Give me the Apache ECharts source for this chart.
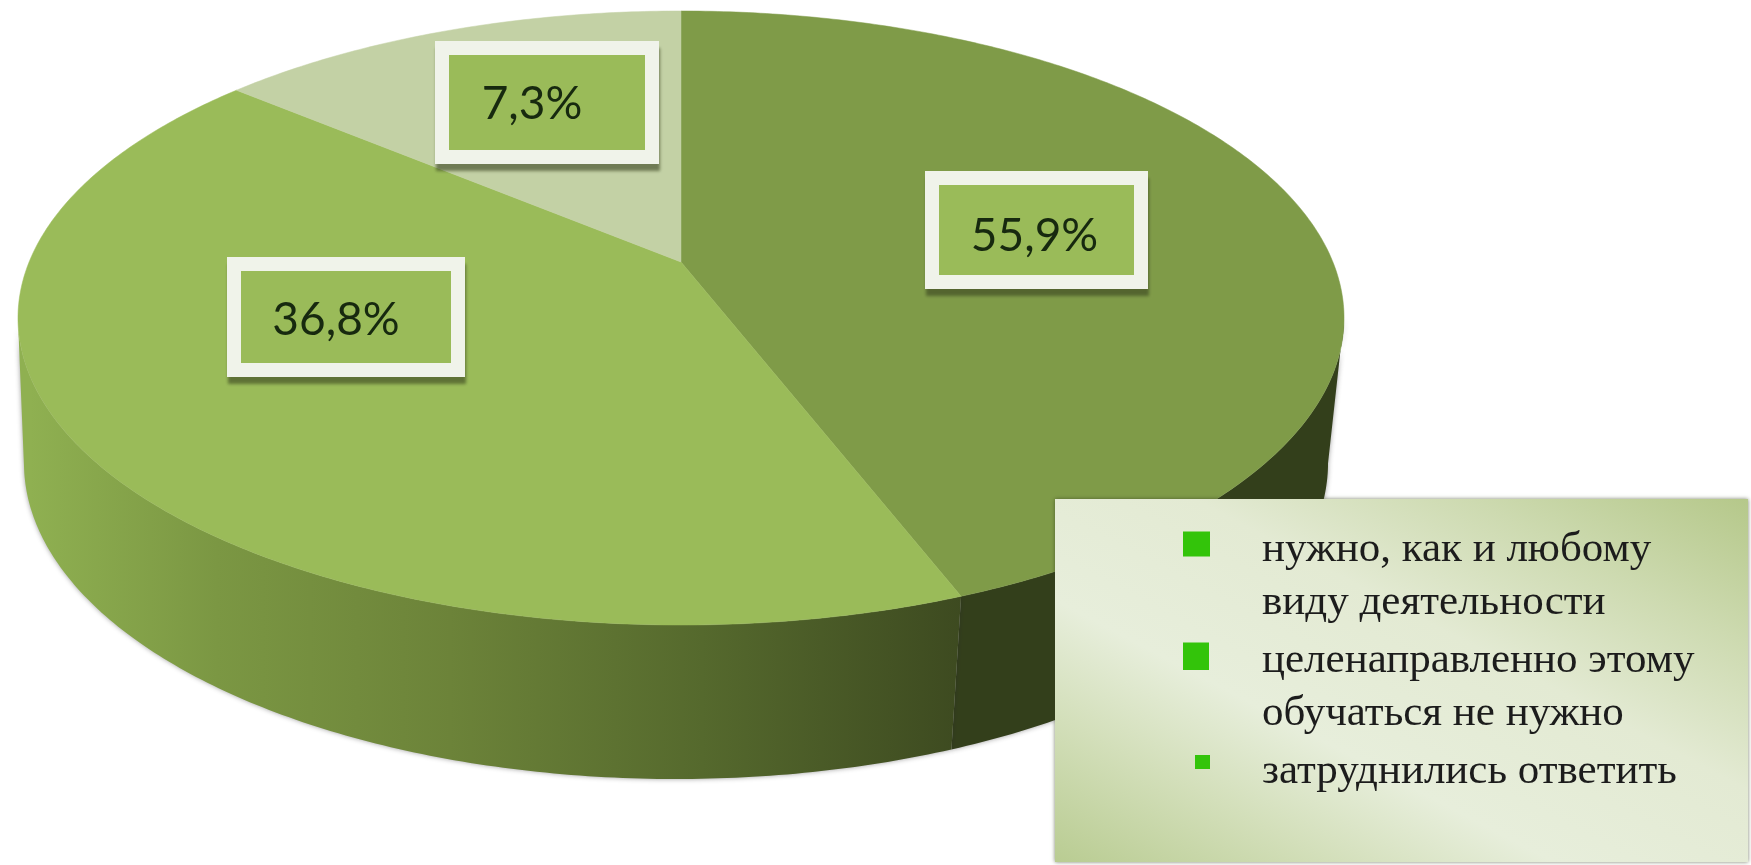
<!DOCTYPE html>
<html><head><meta charset="utf-8">
<style>html,body{margin:0;padding:0;background:#fff}#c{width:1751px;height:865px}</style>
<script src="https://cdn.jsdelivr.net/npm/echarts@6/dist/echarts.min.js"></script>
</head><body><div id="c"></div>
<script>
// Category names and the percentages printed on the chart.
const categories = ['нужно, как и любому\nвиду деятельности', 'целенаправленно этому\nобучаться не нужно', 'затруднились ответить'];
const printedPercents = ['55,9%', '36,8%', '7,3%'];
// Slice sizes as actually drawn in the reference (read from its boundaries; they differ from the printed figures).
const drawnShares = [44.2, 42.0, 13.8];

// Layout and styling, separate from the data.
const P = {cx: 681, y0: 262, a: 296.8, b: 651.9, k: -0.1824};      // perspective disc
const L = {cy0: 318, ry0: 307, rx0: 663, cx: 676, cy: 463, ry: 316, rx: 652}; // lower rim
const faceColors = ['#7f9b48', '#9abb59', '#c3d1a5'];
const wallFill = [
  '#333f1b',
  {type: 'linear', x: 30, y: 0, x2: 964, y2: 0, global: true, colorStops: [
    {offset: 0, color: '#8fb051'}, {offset: .2, color: '#7b9743'}, {offset: .45, color: '#6c8339'},
    {offset: .72, color: '#55692d'}, {offset: 1, color: '#3d4a20'}]},
  '#9aa67f'
];
const labelBoxes = [[925, 171, 223, 118], [227, 257, 238, 120], [435, 41, 224, 123]];
const labelTextShift = [[-2, 6], [-10, 3], [-15, 2]];
const FRAME = 14;

function rimPoint(t) {
  const X = Math.sin(t), Y = -Math.cos(t), D = 1 + P.k * Y;
  return [P.cx + P.b * X / D, P.y0 + P.a * Y / D];
}
function lowerPoint(p) {
  return [L.cx + (p[0] - P.cx) * L.rx / L.rx0, L.cy + (p[1] - L.cy0) * L.ry / L.ry0];
}
function arc(i) {
  const total = drawnShares.reduce((s, v) => s + v, 0);
  const before = drawnShares.slice(0, i).reduce((s, v) => s + v, 0);
  const a0 = before / total * 2 * Math.PI, a1 = (before + drawnShares[i]) / total * 2 * Math.PI;
  const n = Math.max(8, Math.round((a1 - a0) * 90)), pts = [];
  for (let j = 0; j <= n; j++) pts.push(rimPoint(a0 + (a1 - a0) * j / n));
  return pts;
}
function sliceItem(params, api) {
  const i = params.seriesIndex, pts = arc(i), b = labelBoxes[i], s = labelTextShift[i];
  const front = pts.filter(p => p[1] >= L.cy0);
  const children = [];
  if (front.length > 1) {
    children.push({type: 'polygon', z2: i === 1 ? 2 : 1, shape: {points: front.concat(front.map(lowerPoint).reverse())},
      style: {fill: wallFill[i], shadowBlur: 5, shadowColor: 'rgba(40,40,40,.45)'}});
  }
  children.push(
    {type: 'polygon', z2: 5, shape: {points: [[P.cx, P.y0]].concat(pts)},
     style: {fill: faceColors[i], stroke: faceColors[i], lineWidth: .5}},
    {type: 'rect', z2: 6, shape: {x: b[0], y: b[1], width: b[2], height: b[3]},
     style: {fill: '#f0f3ea', shadowColor: 'rgba(55,65,30,.6)', shadowOffsetY: 7, shadowOffsetX: 1, shadowBlur: 3}},
    {type: 'rect', z2: 7, shape: {x: b[0] + FRAME, y: b[1] + FRAME, width: b[2] - 2 * FRAME, height: b[3] - 2 * FRAME},
     style: {fill: '#9abb59'}},
    {type: 'text', z2: 8, x: b[0] + b[2] / 2 + s[0], y: b[1] + b[3] / 2 + s[1],
     style: {text: printedPercents[i], fill: '#17290f', align: 'center', verticalAlign: 'middle',
             font: '46px Lato, "Open Sans", sans-serif'}}
  );
  return {type: 'group', children};
}
const legendIcons = [
  'path://M0 8.5H27V33.5H0Z M0 0L0 0 M74 106L74 106',
  'path://M0 8.5H26V36H0Z M0 0L0 0 M74 106L74 106',
  'path://M12 10H27V24H12Z M0 0L0 0 M74 106L74 106'
];
const chart = echarts.init(document.getElementById('c'), null, {renderer: 'canvas'});
chart.setOption({
  animation: false,
  backgroundColor: '#fff',
  graphic: {elements: [{
    type: 'rect', z: 20, shape: {x: 1055, y: 499, width: 693, height: 363},
    style: {
      fill: {type: 'linear', x: 1252, y: 965, x2: 1551, y2: 396, global: true, colorStops: [
        {offset: 0, color: '#b9cc92'}, {offset: .2, color: '#d3dfba'}, {offset: .36, color: '#e7eedb'},
        {offset: .6, color: '#e3ead3'}, {offset: .8, color: '#cddab0'}, {offset: 1, color: '#b5c88a'}]},
      shadowColor: 'rgba(50,60,30,.65)', shadowBlur: 4
    }
  }]},
  legend: {
    z: 30, orient: 'vertical', left: 1183, top: 523, padding: 0, selectedMode: false,
    itemWidth: 74, itemHeight: 106, itemGap: 5,
    textStyle: {fontFamily: '"Liberation Serif", serif', fontSize: 43, lineHeight: 53, color: '#1c1c1c'},
    formatter: n => n.indexOf('\n') < 0 ? n + '\n ' : n,
    data: categories.map((c, i) => ({name: c, icon: legendIcons[i], itemStyle: {color: '#33c40a'}}))
  },
  series: categories.map((c, i) => ({
    type: 'custom', name: c, coordinateSystem: 'none', silent: true, z: 2,
    renderItem: sliceItem, data: [drawnShares[i]]
  }))
});
</script></body></html>
